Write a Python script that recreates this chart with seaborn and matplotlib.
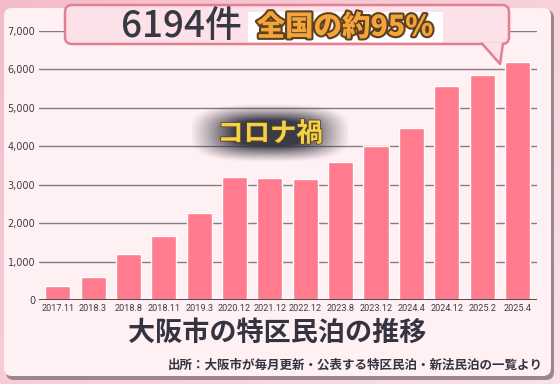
import numpy as np
import pandas as pd
import matplotlib
matplotlib.use("Agg")
import matplotlib.pyplot as plt
import seaborn as sns
from matplotlib.patches import FancyBboxPatch, Polygon, Rectangle
import matplotlib.patheffects as pe

# ---- data ----
periods = ["2017.11", "2018.3", "2018.8", "2018.11", "2019.3", "2020.12", "2021.12",
           "2022.12", "2023.8", "2023.12", "2024.4", "2024.12", "2025.2", "2025.4"]
counts = [360, 600, 1190, 1660, 2270, 3210, 3170, 3150, 3590, 4010, 4470, 5580, 5860, 6194]
yticks = [0, 1000, 2000, 3000, 4000, 5000, 6000, 7000]
ytick_labels = ["0", "1,000", "2,000", "3,000", "4,000", "5,000", "6,000", "7,000"]
title = "大阪市の特区民泊の推移"
source = "出所：大阪市が毎月更新・公表する特区民泊・新法民泊の一覧より"
headline_num = "6194件"
headline_share = "全国の約95%"
covid_note = "コロナ禍"

sns.set_theme(style="white")
plt.rcParams['font.family'] = ['Noto Sans CJK JP', 'DejaVu Sans']

W, H = 560, 384
fig = plt.figure(figsize=(5.6, 3.84), dpi=100)

# ---- background layer (pixel coords) ----
ax_bg = fig.add_axes([0, 0, 1, 1], zorder=0)
ax_bg.set_axis_off()
gy, gx = np.mgrid[0:1:200j, 0:1:300j]
t = np.clip(0.55 * gx + 0.45 * gy, 0, 1)
c0 = np.array([0xF3, 0xBC, 0xC9]) / 255
c1 = np.array([0xFB, 0xE2, 0xE8]) / 255
grad = c0[None, None, :] * (1 - t[..., None]) + c1[None, None, :] * t[..., None]
ax_bg.imshow(grad, extent=(0, W, H, 0), origin="upper", aspect="auto")
ax_bg.add_patch(FancyBboxPatch((6, 10), 548, 370, boxstyle="round,pad=0,rounding_size=8",
                               fc="#9a868c", ec="none"))
ax_bg.add_patch(FancyBboxPatch((4, 8), 547, 368, boxstyle="round,pad=0,rounding_size=8",
                               fc="#FFF0F3", ec="none"))
ax_bg.set_xlim(0, W)
ax_bg.set_ylim(H, 0)

# ---- main chart ----
ax = fig.add_axes([39.3 / W, 84 / H, (537 - 39.3) / W, 269 / H], zorder=1)
ax.set_facecolor("none")
df = pd.DataFrame({"period": periods, "count": counts})
sns.barplot(data=df, x="period", y="count", color="#FF7B8D", saturation=1,
            width=0.71, ax=ax, zorder=3)
ax.set_ylim(0, 7000)
ax.set_xlim(-0.52, len(periods) - 0.45)
ax.set_yticks(yticks)
ax.set_yticklabels(ytick_labels, family=['DejaVu Sans'], fontsize=7, color="#3d3d45")
ax.set_xticks(range(len(periods)))
ax.set_xticklabels(periods, family=['Roboto', 'DejaVu Sans'], fontsize=6.6,
                   color="#3d3d45")
ax.tick_params(axis="both", length=0, pad=3)
for v in yticks[1:]:
    ax.axhline(v, color="#857b80", lw=1.0, zorder=1)
ax.axhline(0, color="#4f4a50", lw=1.4, zorder=4)
for s in ax.spines.values():
    s.set_visible(False)
ax.set_xlabel("")
ax.set_ylabel("")

# ---- foreground layer (pixel coords) ----
ax_fg = fig.add_axes([0, 0, 1, 1], zorder=2)
ax_fg.set_axis_off()
ax_fg.patch.set_alpha(0)

# glow behind コロナ禍
yy, xx = np.mgrid[0:1:120j, 0:1:300j]
r = (np.abs((xx - 0.5) / 0.42) ** 3 + np.abs((yy - 0.5) / 0.38) ** 3) ** (1 / 3)
alpha = np.clip(1.25 - r, 0, 1) ** 1.2
alpha = np.clip(alpha * 1.4, 0, 0.93)
glow = np.zeros((120, 300, 4))
glow[..., 0] = 0x2c / 255
glow[..., 1] = 0x2c / 255
glow[..., 2] = 0x3a / 255
glow[..., 3] = alpha
ax_fg.imshow(glow, extent=(192, 348, 164, 102), origin="upper", aspect="auto")
ax_fg.text(270, 134, covid_note, ha="center", va="center", fontsize=19,
           fontweight="bold", color="#F6D04A",
           path_effects=[pe.withStroke(linewidth=1.2, foreground="#5a4a20")])

# speech bubble
ax_fg.add_patch(FancyBboxPatch((65, 5), 444, 39, boxstyle="round,pad=0,rounding_size=7",
                               fc="#FCE1E8", ec="#E47F93", lw=1.8))
ax_fg.add_patch(Polygon([(482, 42.5), (503, 42.5), (500, 64)], closed=True,
                        fc="#FCE1E8", ec="none"))
ax_fg.plot([482, 500, 503], [43.5, 64, 43.5], color="#E47F93", lw=1.8,
           solid_capstyle="round", solid_joinstyle="round")
ax_fg.add_patch(Rectangle((248, 12), 195, 30, fc="white", ec="none"))
ax_fg.text(181, 26, headline_num, ha="center", va="center", fontsize=26.5,
           color="#383844", fontweight="medium")
ax_fg.text(345, 27, headline_share, ha="center", va="center", fontsize=20.5,
           fontweight="black", color="#F3A53C",
           path_effects=[pe.withStroke(linewidth=3, foreground="#5e4020")])

# title and source
ax_fg.text(277, 333, title, ha="center", va="center", fontsize=19.5,
           fontweight="bold", color="#343440")
ax_fg.text(355, 365, source, ha="center", va="center", fontsize=9,
           fontweight="bold", color="#343440")

ax_fg.set_xlim(0, W)
ax_fg.set_ylim(H, 0)

fig.savefig("out.png", dpi=100)
